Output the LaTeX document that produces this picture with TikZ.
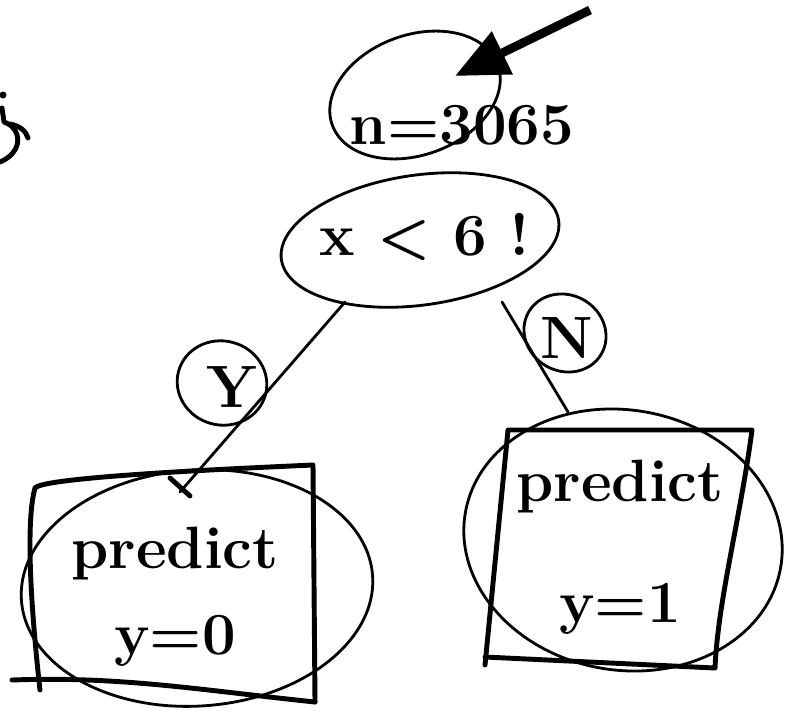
\documentclass[tikz,border=0pt]{standalone}
\usetikzlibrary{arrows.meta}
\tikzset{
  sketch/.style={line width=1.6pt, line cap=round, line join=round},
  heavy/.style={line width=2.8pt, line cap=round, line join=round},
  hand/.style={font=\fontsize{34}{49}\selectfont\bfseries, inner sep=0pt},
}
\begin{document}
\begin{tikzpicture}[x=0.02cm,y=-0.02cm]
  \useasboundingbox (0,0) rectangle (786,710);
  % scrap of writing at the left edge
  \fill (3,95) circle (3.5);
  \draw[heavy] (2,108) -- (4,122) .. controls (22,128) and (24,152) .. (0,162);
  \draw[heavy] (10,124) .. controls (20,126) and (26,131) .. (28,138);
  % root with its count and arrow
  \node[hand] (count) at (462,125) {n=3065};
  \draw[sketch, rotate around={20:(415,95)}] (415,95) ellipse [x radius=88, y radius=60];
  \coordinate (arrowtail) at (590,10);
  \coordinate (arrowhead) at (455,76);
  \draw[line width=5pt, -{Triangle[length=30pt,width=26pt]}] (arrowtail) -- (arrowhead);
  \node[hand] (split) at (425,237) {x < 6 !};
  \draw[sketch, rotate around={8:(420,240)}] (420,240) ellipse [x radius=140, y radius=65];
  % branches
  \coordinate (splitL) at (345,302);
  \coordinate (splitR) at (502,302);
  \coordinate (leafLtop) at (180,492);
  \coordinate (leafRtop) at (568,412);
  \draw[sketch] (splitL) -- (leafLtop);
  \draw[sketch] (splitR) -- (leafRtop);
  \draw[heavy] (170,478) -- (190,496);
  \node[hand] (yes) at (232,387) {Y};
  \draw[sketch, rotate around={-15:(222,383)}] (222,383) ellipse [x radius=45, y radius=42];
  \node[hand] (no) at (567,338) {N};
  \draw[sketch, rotate around={-30:(565,333)}] (565,333) ellipse [x radius=42, y radius=38];
  % left leaf
  \node[hand, align=center] (leafL) at (175,597) {predict\\y=0};
  \draw[heavy] (40,690) .. controls (30,600) and (26,520) .. (35,488)
    .. controls (42,478) and (200,470) .. (313,465) -- (315,702);
  \draw[heavy] (12,680) .. controls (120,676) and (200,690) .. (315,702);
  \draw[sketch, rotate around={4:(197,588)}] (197,588) ellipse [x radius=176, y radius=118];
  % right leaf
  \node[hand, align=center] (leafR) at (620,547) {predict\\[20pt]y=1};
  \draw[heavy] (485,665) -- (508,430) -- (752,430)
    .. controls (740,520) and (718,600) .. (715,668) -- (485,657);
  \draw[sketch, rotate around={-10:(623,540)}] (623,540) ellipse [x radius=160, y radius=130];
\end{tikzpicture}
\end{document}
